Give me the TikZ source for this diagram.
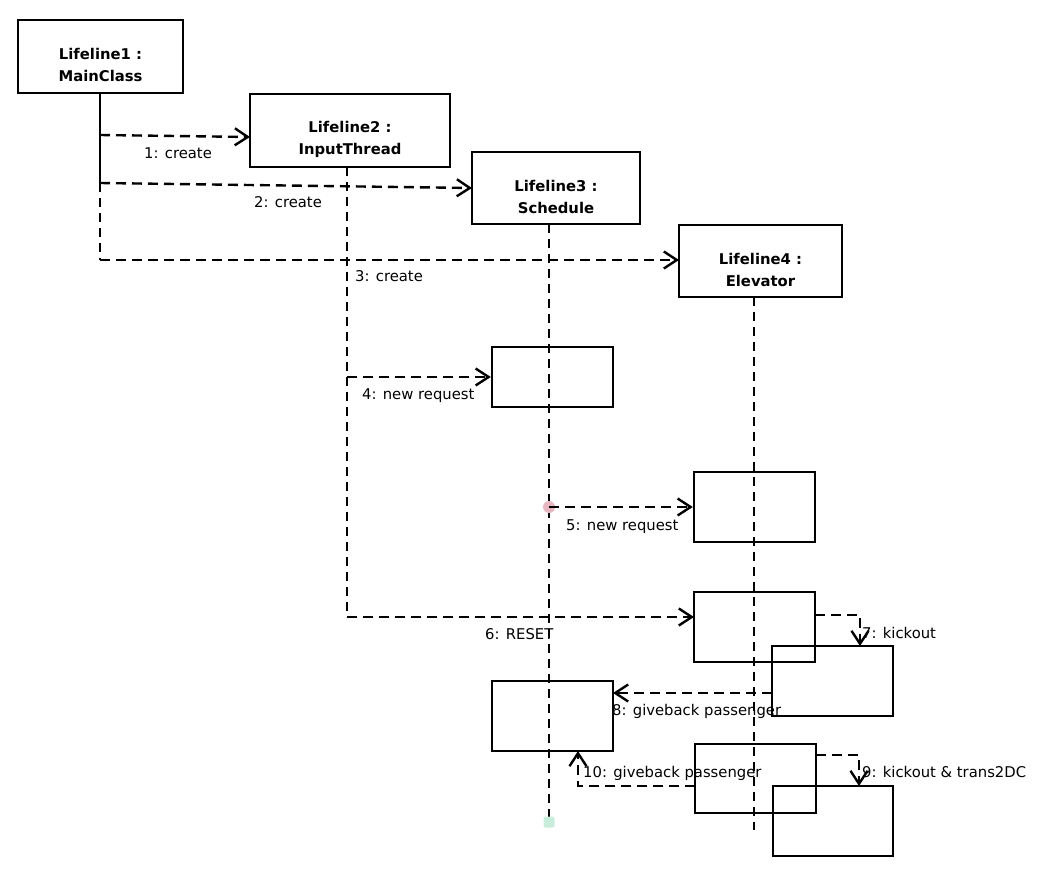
\documentclass[tikz,border=0pt]{standalone}
\usepackage{fontspec}
\setmainfont{DejaVu Sans}
\usetikzlibrary{arrows.meta}
\definecolor{dotred}{RGB}{232,182,190}
\definecolor{endgreen}{RGB}{200,238,219}
\tikzset{
  box/.style={draw, line width=2.4pt, inner sep=0pt},
  title/.style={font=\bfseries\fontsize{14.8}{22.5}\selectfont, align=center, inner sep=0pt},
  lbl/.style={anchor=base west, font=\fontsize{14.8}{17}\selectfont, inner sep=0pt},
  life/.style={line width=2.4pt, dash pattern=on 9pt off 6pt},
  msg/.style={line width=2.4pt, dash pattern=on 10pt off 6pt,
    -{Straight Barb[length=13pt,width=17pt,line width=2.4pt]}},
}
\begin{document}
\begin{tikzpicture}[x=1pt,y=-1pt]
\useasboundingbox (0,0) rectangle (1038,874);
% lifeline heads
\node[box, minimum width=165pt, minimum height=73pt] (L1) at (100.5,56.5) {};
\node[title] (L1t) at (100.5,65) {Lifeline1 :\\MainClass};
\node[box, minimum width=200pt, minimum height=73pt] (L2) at (350,130.5) {};
\node[title] (L2t) at (350,139.5) {Lifeline2 :\\InputThread};
\node[box, minimum width=168pt, minimum height=72pt] (L3) at (556,188) {};
\node[title] (L3t) at (556,197) {Lifeline3 :\\Schedule};
\node[box, minimum width=163pt, minimum height=72pt] (L4) at (760.5,261) {};
\node[title] (L4t) at (760.5,270) {Lifeline4 :\\Elevator};
% execution boxes
\node[box, minimum width=121pt, minimum height=60pt] (S1) at (552.5,377) {};
\node[box, minimum width=121pt, minimum height=70pt] (E1) at (754.5,507) {};
\node[box, minimum width=121pt, minimum height=70pt] (E2) at (754.5,627) {};
\node[box, minimum width=121pt, minimum height=70pt] (E3) at (832.5,681) {};
\node[box, minimum width=121pt, minimum height=70pt] (S2) at (552.5,716) {};
\node[box, minimum width=121pt, minimum height=69pt] (E4) at (755.5,778.5) {};
\node[box, minimum width=120pt, minimum height=70pt] (E5) at (833,821) {};
% coordinates
\coordinate (l1top) at (100,93);
\coordinate (l1mid) at (100,183);
\coordinate (l1bot) at (100,260);
\coordinate (a1s) at (100,135);
\coordinate (a1e) at (250,137);
\coordinate (a2e) at (472,188);
\coordinate (a3e) at (679,260);
\coordinate (l2top) at (347,167);
\coordinate (l2bot) at (347,617);
\coordinate (a4s) at (347,377);
\coordinate (a6e) at (694,617);
\coordinate (l3top) at (549,224);
\coordinate (l3bot) at (549,822);
\coordinate (l4top) at (754,297);
\coordinate (l4bot) at (754,830);
\coordinate (a7s) at (815,615);
\coordinate (a7b) at (860,615);
\coordinate (a7e) at (860,646);
\coordinate (a8s) at (772,693);
\coordinate (a8e) at (613,693);
\coordinate (a9s) at (816,755);
\coordinate (a9b) at (859,755);
\coordinate (a9e) at (859,786);
\coordinate (a10s) at (695,786);
\coordinate (a10b) at (578,786);
\coordinate (a10e) at (578,751);
% lifelines
\draw[line width=2.4pt] (l1top) -- (l1mid);
\draw[life] (l1mid) -- (l1bot);
\draw[life] (l2top) -- (l2bot);
\draw[life] (l3top) -- (l3bot);
\draw[life] (l4top) -- (l4bot);
% marks
\node[circle, fill=dotred, minimum size=12pt, inner sep=0pt] (dot) at (549,507) {};
\node[fill=endgreen, rounded corners=2pt, minimum size=11pt, inner sep=0pt] (endm) at (l3bot) {};
% messages
\draw[msg] (a1s) -- (a1e);
\draw[msg] (l1mid) -- (a2e);
\draw[msg] (l1bot) -- (a3e);
\draw[msg] (a4s) -- (S1.west);
\draw[msg] (dot.center) -- (E1.west);
\draw[msg] (l2bot) -- (a6e);
\draw[msg] (a7s) -- (a7b) -- (a7e);
\draw[msg] (a8s) -- (a8e);
\draw[msg] (a9s) -- (a9b) -- (a9e);
\draw[msg] (a10s) -- (a10b) -- (a10e);
% labels
\node[lbl] (t1) at (144,159) {1: create};
\node[lbl] (t2) at (254,208) {2: create};
\node[lbl] (t3) at (355,282) {3: create};
\node[lbl] (t4) at (362,399) {4: new request};
\node[lbl] (t5) at (566,530) {5: new request};
\node[lbl] (t6) at (485,639) {6: RESET};
\node[lbl] (t7) at (862,638) {7: kickout};
\node[lbl] (t8) at (612,715) {8: giveback passenger};
\node[lbl] (t9) at (862,777) {9: kickout \& trans2DC};
\node[lbl] (t10) at (583,777) {10: giveback passenger};
\end{tikzpicture}
\end{document}
